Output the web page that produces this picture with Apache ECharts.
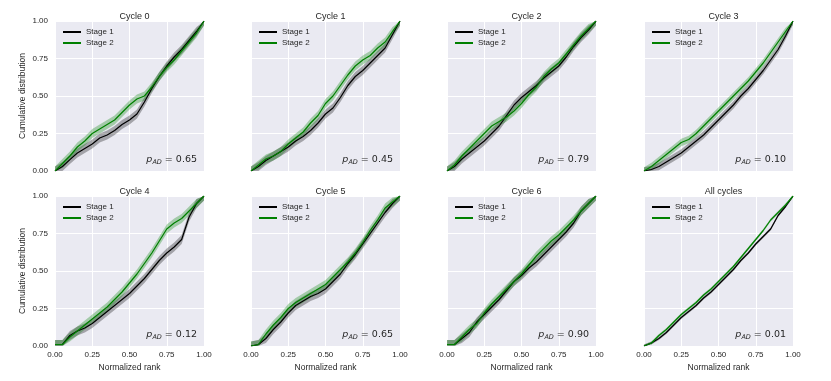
<!DOCTYPE html>
<html>
<head>
<meta charset="utf-8">
<script src="https://cdn.jsdelivr.net/npm/echarts@6/dist/echarts.min.js"></script>
<style>
  html, body { margin: 0; background: #fff; }
  #main { width: 831px; height: 381px; }
</style>
</head>
<body>
<div id="main"></div>
<script>
// normalized rank grid that the curves were read on
var ranks = [0, 0.05, 0.1, 0.15, 0.2, 0.25, 0.3, 0.35, 0.4, 0.45, 0.5,
             0.55, 0.6, 0.65, 0.7, 0.75, 0.8, 0.85, 0.9, 0.95, 1];

var titles = ['Cycle 0', 'Cycle 1', 'Cycle 2', 'Cycle 3',
              'Cycle 4', 'Cycle 5', 'Cycle 6', 'All cycles'];
var pValues = ['0.65', '0.45', '0.79', '0.10', '0.12', '0.65', '0.90', '0.01'];

// cumulative distribution per panel
var stage1 = [
  [0, .03, .076, .12, .15, .18, .22, .24, .27, .31, .34, .38, .46, .55, .63, .70, .76, .81, .87, .93, 1],
  [0, .03, .07, .10, .13, .16, .20, .23, .27, .32, .38, .42, .49, .57, .63, .67, .72, .77, .82, .91, 1],
  [0, .03, .08, .12, .16, .20, .25, .30, .37, .44, .49, .53, .57, .62, .66, .70, .76, .83, .89, .94, 1],
  [0, .01, .03, .06, .09, .12, .16, .20, .24, .29, .34, .39, .44, .50, .55, .61, .67, .74, .81, .90, 1],
  [.01, .01, .07, .10, .12, .15, .19, .23, .27, .31, .35, .40, .45, .51, .57, .62, .66, .71, .86, .95, 1],
  [0, .01, .05, .11, .16, .22, .27, .30, .33, .35, .38, .43, .48, .55, .61, .68, .75, .82, .89, .95, 1],
  [.01, .01, .05, .09, .16, .21, .26, .31, .37, .43, .47, .52, .56, .61, .66, .71, .76, .82, .90, .95, 1],
  [0, .02, .05, .09, .14, .19, .23, .27, .32, .36, .41, .46, .51, .57, .62, .68, .73, .78, .87, .93, 1]
];
var stage2 = [
  [0, .05, .10, .16, .20, .25, .28, .31, .34, .39, .44, .48, .50, .56, .63, .69, .74, .80, .86, .92, 1],
  [0, .04, .08, .10, .13, .18, .22, .26, .32, .37, .45, .50, .57, .64, .70, .74, .77, .82, .86, .93, 1],
  [0, .04, .10, .15, .20, .25, .30, .33, .36, .40, .45, .51, .56, .63, .68, .72, .78, .84, .90, .95, 1],
  [0, .03, .07, .11, .15, .19, .21, .25, .30, .35, .40, .45, .50, .55, .60, .66, .72, .79, .86, .93, 1],
  [.01, .01, .06, .10, .14, .18, .22, .26, .31, .36, .42, .48, .55, .62, .70, .78, .82, .85, .90, .95, 1],
  [0, .01, .08, .14, .19, .25, .29, .32, .35, .38, .41, .46, .51, .56, .62, .69, .77, .84, .92, .96, 1],
  [.01, .01, .06, .11, .15, .22, .28, .33, .38, .43, .48, .54, .60, .65, .70, .74, .79, .84, .90, .95, 1],
  [0, .02, .07, .11, .16, .21, .25, .29, .34, .38, .43, .48, .53, .59, .65, .71, .77, .84, .89, .94, 1]
];
// half width of the shaded confidence band
var bandHalf = [0.03, 0.03, 0.03, 0.025, 0.03, 0.03, 0.03, 0.01];

var colLefts = [55, 251, 447, 644];
var rowTops = [21, 196];
var W = 149, H = 150;
var textColor = '#262626';

var grids = [], xAxes = [], yAxes = [], seriesList = [], titleList = [], legends = [], graphics = [];

function clamp(v) { return Math.min(1, Math.max(0, v)); }
function pairs(ys) {
  return ranks.map(function (x, i) { return [x, ys[i]]; });
}
function fmt(v) { return v.toFixed(2); }

// band polygon: upper edge forward, lower edge back, through the axis scales
function bandSeries(k, ys, w, fill) {
  return {
    type: 'custom', xAxisIndex: k, yAxisIndex: k, silent: true, z: 1,
    data: [[0, 0]],
    renderItem: function (params, api) {
      var pts = [];
      ranks.forEach(function (x, i) { pts.push(api.coord([x, clamp(ys[i] + w)])); });
      for (var i = ranks.length - 1; i >= 0; i--) pts.push(api.coord([ranks[i], clamp(ys[i] - w)]));
      return { type: 'polygon', shape: { points: pts }, style: { fill: fill } };
    }
  };
}

function buildPanel(k) {
  var row = Math.floor(k / 4), col = k % 4;
  var gl = colLefts[col], gt = rowTops[row];
  grids.push({ left: gl, top: gt, width: W, height: H, show: true,
    backgroundColor: '#EAEAF2', borderWidth: 0 });
  xAxes.push({
    gridIndex: k, type: 'value', min: 0, max: 1, interval: 0.25,
    axisLine: { show: false }, axisTick: { show: false },
    splitLine: { lineStyle: { color: '#fff', width: 1 } },
    axisLabel: { show: row === 1, fontSize: 8, color: textColor, margin: 5,
      fontFamily: 'Liberation Sans', formatter: fmt },
    name: row === 1 ? 'Normalized rank' : '', nameLocation: 'middle', nameGap: 17,
    nameTextStyle: { fontSize: 8.5, color: textColor, fontFamily: 'Liberation Sans' }
  });
  yAxes.push({
    gridIndex: k, type: 'value', min: 0, max: 1, interval: 0.25,
    axisLine: { show: false }, axisTick: { show: false },
    splitLine: { lineStyle: { color: '#fff', width: 1 } },
    axisLabel: { show: col === 0, fontSize: 8, color: textColor, margin: 7,
      fontFamily: 'Liberation Sans', formatter: fmt },
    name: col === 0 ? 'Cumulative distribution' : '', nameLocation: 'middle', nameGap: 28,
    nameRotate: 90,
    nameTextStyle: { fontSize: 8.5, color: textColor, fontFamily: 'Liberation Sans' }
  });

  var stages = [
    { name: 'Stage 1', ys: stage1[k], color: '#000000', fill: 'rgba(0,0,0,0.3)' },
    { name: 'Stage 2', ys: stage2[k], color: '#008000', fill: 'rgba(0,128,0,0.3)' }
  ];
  stages.forEach(function (s) {
    seriesList.push(bandSeries(k, s.ys, bandHalf[k], s.fill));
  });
  stages.forEach(function (s) {
    seriesList.push({
      name: s.name, type: 'line', xAxisIndex: k, yAxisIndex: k,
      data: pairs(s.ys), symbol: 'none', color: s.color,
      lineStyle: { color: s.color, width: 1.2 }, z: 3
    });
  });

  titleList.push({
    text: titles[k], left: gl + W / 2, top: gt - 14, textAlign: 'center',
    textStyle: { fontSize: 9, fontWeight: 'normal', color: textColor, fontFamily: 'Liberation Sans' }
  });
  legends.push({
    data: ['Stage 1', 'Stage 2'], left: gl + 3, top: gt + 2, orient: 'vertical',
    icon: 'rect', itemWidth: 18, itemHeight: 2, itemGap: 3, selectedMode: false,
    textStyle: { fontSize: 8, color: textColor, fontFamily: 'Liberation Sans' }
  });
  graphics.push({
    type: 'text', z: 10,
    style: {
      text: '{p|p}{s|AD}{n| = ' + pValues[k] + '}',
      x: gl + W - 7, y: gt + H - 11, align: 'right', verticalAlign: 'middle',
      rich: {
        p: { fontSize: 9.5, fontStyle: 'italic', fontFamily: 'DejaVu Sans', fill: textColor },
        s: { fontSize: 6.5, fontStyle: 'italic', fontFamily: 'DejaVu Sans', fill: textColor, padding: [5, 0, 0, 0] },
        n: { fontSize: 9.5, fontFamily: 'DejaVu Sans', fill: textColor }
      }
    }
  });
}

for (var k = 0; k < 8; k++) buildPanel(k);

var chart = echarts.init(document.getElementById('main'), null, { renderer: 'canvas' });
chart.setOption({
  backgroundColor: '#ffffff',
  animation: false,
  title: titleList,
  legend: legends,
  grid: grids,
  xAxis: xAxes,
  yAxis: yAxes,
  series: seriesList,
  graphic: graphics
});
</script>
</body>
</html>
